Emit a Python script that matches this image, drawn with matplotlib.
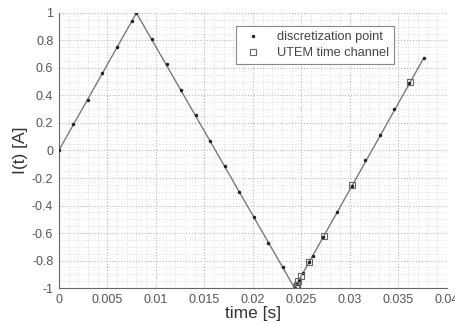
"""Triangular transmitter current waveform with UTEM time channels."""

import matplotlib

matplotlib.use("Agg")
import matplotlib.pyplot as plt
from matplotlib.ticker import MultipleLocator

plt.rcParams["font.family"] = ["Liberation Sans", "DejaVu Sans"]

# waveform corners
wave_t = [0.0, 0.0080, 0.0243, 0.0376]
wave_i = [0.0, 1.0, -1.0, 0.67]

# discretization points
disc_t = [0.0, 0.0015, 0.0030, 0.0045, 0.0060, 0.0075, 0.0080,
          0.0096, 0.0111, 0.0126, 0.0141, 0.0156, 0.0171, 0.0186,
          0.0201, 0.0216, 0.0231, 0.0243,
          0.0245, 0.0248, 0.0252, 0.0258, 0.0262, 0.0272, 0.0287,
          0.0302, 0.0316, 0.0331, 0.0346, 0.0361, 0.0376]
disc_i = [0.0, 0.19, 0.37, 0.56, 0.75, 0.94, 1.0,
          0.81, 0.63, 0.44, 0.26, 0.07, -0.11, -0.30,
          -0.48, -0.67, -0.85, -1.0,
          -0.97, -0.94, -0.89, -0.81, -0.77, -0.63, -0.45,
          -0.26, -0.07, 0.11, 0.30, 0.49, 0.67]

# UTEM channel times
utem_t = [0.0244, 0.0245, 0.0247, 0.0250, 0.0258, 0.0273, 0.0302, 0.0362]
utem_i = [-0.99, -0.98, -0.95, -0.91, -0.81, -0.62, -0.25, 0.50]

x_ticks = [0, 0.005, 0.01, 0.015, 0.02, 0.025, 0.03, 0.035, 0.04]
x_labels = ["0", "0.005", "0.01", "0.015", "0.02", "0.025", "0.03",
            "0.035", "0.04"]
y_ticks = [-1, -0.8, -0.6, -0.4, -0.2, 0, 0.2, 0.4, 0.6, 0.8, 1]
y_labels = ["-1", "-0.8", "-0.6", "-0.4", "-0.2", "0", "0.2", "0.4",
            "0.6", "0.8", "1"]

fig = plt.figure(figsize=(4.56, 3.24), dpi=100)
ax = fig.add_axes([0.129, 0.111, 0.851, 0.849])

ax.plot(wave_t, wave_i, color="#7a7a7a", lw=1.0, zorder=2)
ax.plot(disc_t, disc_i, ls="none", marker=".", ms=3, color="#222222",
        label="discretization point", zorder=3)
ax.plot(utem_t, utem_i, ls="none", marker="s", ms=5, mfc="none",
        mec="#666666", mew=0.8, label="UTEM time channel", zorder=4)

ax.set_xlim(0, 0.04)
ax.set_ylim(-1, 1)
ax.set_xticks(x_ticks, x_labels)
ax.set_yticks(y_ticks, y_labels)
ax.xaxis.set_minor_locator(MultipleLocator(0.001))
ax.yaxis.set_minor_locator(MultipleLocator(0.05))

ax.grid(which="major", ls=":", lw=0.8, color="#b8b8b8")
ax.grid(which="minor", ls=":", lw=0.6, color="#d8d8d8")
ax.set_axisbelow(True)

for side in ("top", "right"):
    ax.spines[side].set_visible(False)
for side in ("left", "bottom"):
    ax.spines[side].set_color("#666666")
ax.tick_params(which="both", length=0, labelsize=9, colors="#555555",
               pad=4)

ax.set_xlabel("time [s]", fontsize=12.5, color="#333333", labelpad=0)
ax.set_ylabel("I(t) [A]", fontsize=12.5, color="#333333", labelpad=3)

leg = ax.legend(loc="upper left", bbox_to_anchor=(0.44, 0.975),
                fontsize=9.2, fancybox=False, framealpha=1,
                edgecolor="#888888", handlelength=1.8, handletextpad=1.0,
                borderpad=0.4, labelspacing=0.3)
leg.get_frame().set_linewidth(0.8)
for t in leg.get_texts():
    t.set_color("#444444")

fig.savefig("out.png", dpi=100)
